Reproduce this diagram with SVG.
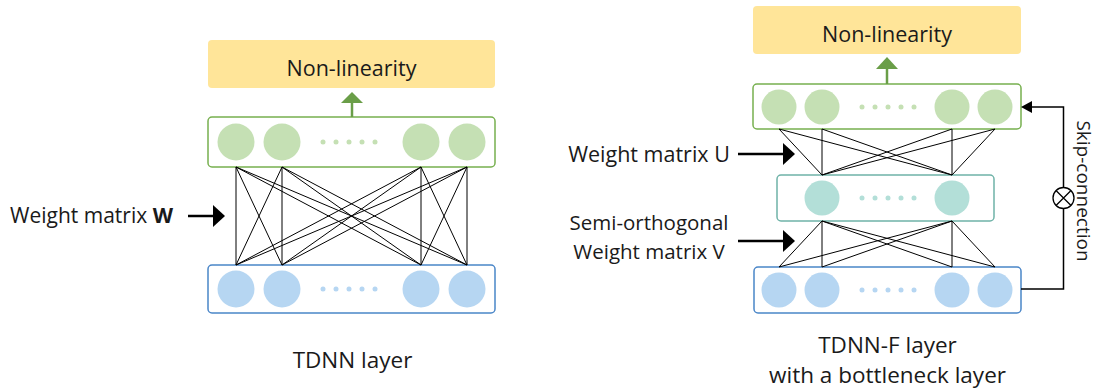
<svg xmlns="http://www.w3.org/2000/svg" width="1095" height="390" viewBox="0 0 1095 390">
<style>
text{font-family:"Open Sans","Noto Sans","Liberation Sans",sans-serif;fill:#1a1a1a}
.nl{fill:#FFE599}
.gbox{fill:#fff;stroke:#77b04f;stroke-width:1.5}
.bbox{fill:#fff;stroke:#4a86c8;stroke-width:1.5}
.tbox{fill:#fff;stroke:#6fb3a8;stroke-width:1.5}
.gc{fill:#c5e0b4}
.bc{fill:#b6d6f2}
.tc{fill:#b3dfd8}
.ga{fill:#6a9e48;stroke:#6a9e48}
.w{stroke:#000;stroke-width:1;fill:none}
.ar{stroke:#000;stroke-width:2.5;fill:none}
</style>
<defs>
<g id="gdots"><circle cx="0" cy="0" r="2.5"/><circle cx="13" cy="0" r="2.5"/><circle cx="26" cy="0" r="2.5"/><circle cx="39" cy="0" r="2.5"/><circle cx="52" cy="0" r="2.5"/></g>
</defs>

<g id="left-nonlinearity">
<rect class="nl" x="208" y="40" width="287" height="48" rx="4"/>
<text x="351.5" y="76" font-size="21.5" text-anchor="middle">Non-linearity</text>
</g>
<g id="left-output">
<rect class="gbox" x="208" y="117" width="287" height="50" rx="4"/>
<g class="gc"><circle cx="236" cy="142" r="18.5"/><circle cx="282" cy="142" r="18.5"/><circle cx="421" cy="142" r="18.5"/><circle cx="467" cy="142" r="18.5"/><use href="#gdots" x="323" y="142"/></g>
</g>
<g id="left-input">
<rect class="bbox" x="208" y="265" width="287" height="48" rx="4"/>
<g class="bc"><circle cx="236" cy="289" r="18.5"/><circle cx="282" cy="289" r="18.5"/><circle cx="421" cy="289" r="18.5"/><circle cx="467" cy="289" r="18.5"/><use href="#gdots" x="323" y="289"/></g>
</g>
<g id="left-label">
<text x="10" y="223" font-size="21">Weight matrix <tspan font-weight="bold">W</tspan></text>
</g>
<g id="left-caption">
<text x="352.5" y="368" font-size="22.5" text-anchor="middle">TDNN layer</text>
</g>

<g id="right-nonlinearity">
<rect class="nl" x="753" y="6" width="268" height="48" rx="4"/>
<text x="887" y="42" font-size="21.5" text-anchor="middle">Non-linearity</text>
</g>
<g id="right-output">
<rect class="gbox" x="753" y="84" width="268" height="45" rx="4"/>
<g class="gc"><circle cx="779" cy="107" r="17.5"/><circle cx="822" cy="107" r="17.5"/><circle cx="952" cy="107" r="17.5"/><circle cx="995" cy="107" r="17.5"/><use href="#gdots" x="862" y="107"/></g>
</g>
<g id="right-bottleneck">
<rect class="tbox" x="777" y="175" width="217" height="46" rx="4"/>
<g class="tc"><circle cx="822" cy="198" r="17.5"/><circle cx="952" cy="198" r="17.5"/><use href="#gdots" x="862" y="198"/></g>
</g>
<g id="right-input">
<rect class="bbox" x="754" y="267" width="267" height="46" rx="4"/>
<g class="bc"><circle cx="779" cy="290" r="17.5"/><circle cx="822" cy="290" r="17.5"/><circle cx="952" cy="290" r="17.5"/><circle cx="995" cy="290" r="17.5"/><use href="#gdots" x="862" y="290"/></g>
</g>
<g id="right-labels">
<text x="649" y="162" font-size="21.5" text-anchor="middle">Weight matrix U</text>
<text x="649" y="230" font-size="20.5" text-anchor="middle">Semi-orthogonal</text>
<text x="649" y="258.5" font-size="20.5" text-anchor="middle">Weight matrix V</text>
</g>
<g id="right-caption">
<text x="887.5" y="353" font-size="22.5" text-anchor="middle">TDNN-F layer</text>
<text x="887.5" y="383" font-size="22.5" text-anchor="middle">with a bottleneck layer</text>
</g>
<g id="skip-label">
<text transform="translate(1077,191) rotate(90)" font-size="19" text-anchor="middle">Skip-connection</text>
</g>

<g id="connectors">
<g class="w">
<path d="M236,167L236,265M236,167L282,265M236,167L421,265M236,167L467,265
M282,167L236,265M282,167L282,265M282,167L421,265M282,167L467,265
M421,167L236,265M421,167L282,265M421,167L421,265M421,167L467,265
M467,167L236,265M467,167L282,265M467,167L421,265M467,167L467,265"/>
<path d="M779,129L822,175M779,129L952,175M822,129L822,175M822,129L952,175
M952,129L822,175M952,129L952,175M995,129L822,175M995,129L952,175"/>
<path d="M822,221L779,267M822,221L822,267M822,221L952,267M822,221L995,267
M952,221L779,267M952,221L822,267M952,221L952,267M952,221L995,267"/>
</g>
<g class="ga">
<line x1="352" y1="117" x2="352" y2="102" stroke-width="2.5"/>
<polygon points="341,103 363,103 352,92" stroke="none"/>
<line x1="887" y1="84" x2="887" y2="68" stroke-width="2.5"/>
<polygon points="876,69 898,69 887,57" stroke="none"/>
</g>
<line class="ar" x1="188" y1="216" x2="214" y2="216"/>
<polygon points="213,205 213,227 225,216"/>
<line class="ar" x1="738" y1="154" x2="784" y2="154"/>
<polygon points="783,143 783,165 795,154"/>
<line class="ar" x1="738" y1="241" x2="784" y2="241"/>
<polygon points="783,230 783,252 795,241"/>
<path d="M1021,289H1063.5V107H1031" fill="none" stroke="#000" stroke-width="1.5"/>
<polygon points="1021,107 1032,101 1032,113"/>
<circle cx="1063.5" cy="198" r="10.5" fill="#fff" stroke="#000" stroke-width="1.3"/>
<path d="M1056,190.5L1071,205.5M1071,190.5L1056,205.5" stroke="#000" stroke-width="1.3"/>
</g>
</svg>
